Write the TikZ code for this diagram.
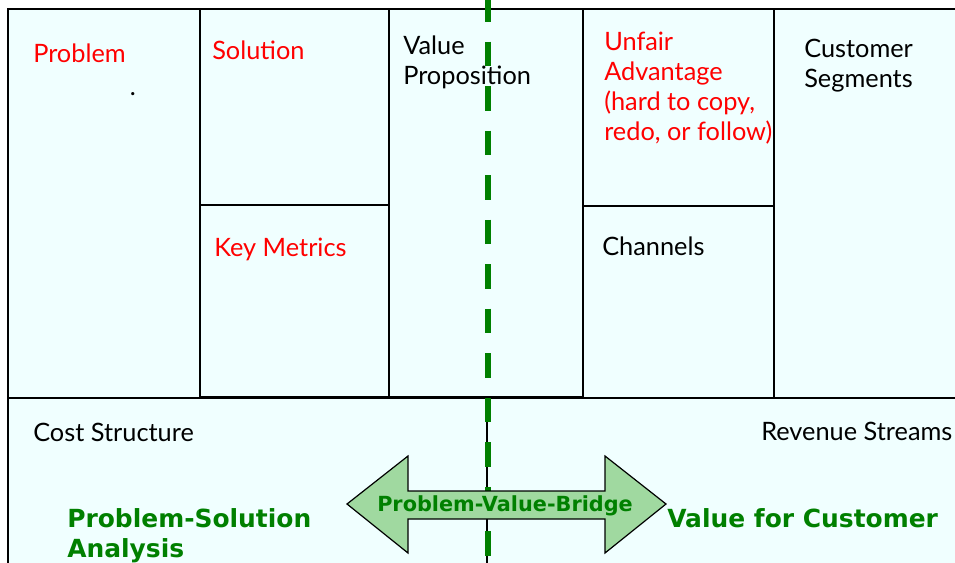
\documentclass[tikz,border=0pt]{standalone}
\usepackage{fontspec}
\setmainfont{Lato}
\newfontfamily\greenfont{DejaVu Sans}
\begin{document}
\begin{tikzpicture}[x=0.75pt,y=-0.75pt,
  box/.style={draw=black,line width=1.5pt,fill=canvasbg},
  lbl/.style={anchor=base west,inner sep=0pt,align=left,font=\fontsize{19}{22.6}\selectfont},
  redlbl/.style={lbl,text=red},
  blklbl/.style={lbl,text=black},
  grnlbl/.style={anchor=base west,inner sep=0pt,align=left,text=grn,font=\greenfont\bfseries\fontsize{18.7}{22.5}\selectfont},
  bridge/.style={draw=black,line width=0.9pt,fill=arrowfill},
  dashline/.style={draw=grn,line width=4.5pt,dash pattern=on 18.4pt off 15pt}
]
\definecolor{canvasbg}{RGB}{240,255,255}
\definecolor{grn}{RGB}{0,128,0}
\definecolor{arrowfill}{RGB}{160,217,160}
\useasboundingbox (0,0) rectangle (955,563);
\clip (0,0) rectangle (955,563);
% boxes
\draw[box] (8,9) rectangle (200,398);
\draw[box] (200,9) rectangle (389,205);
\draw[box] (200,205) rectangle (389,397);
\draw[box] (389,9) rectangle (583,397);
\draw[box] (583,9) rectangle (774,206);
\draw[box] (583,206) rectangle (774,398);
\draw[box] (774,9) rectangle (962,400);
\draw[box] (8,398) rectangle (487,572);
\draw[box] (487,398) rectangle (962,572);
% labels (multi-line nodes: base = last line)
\node[redlbl] (problem) at (33,63) {Problem};
\node[blklbl] (dot) at (129.5,96) {.};
\node[redlbl] (solution) at (212,60) {Solution};
\node[blklbl] (vp) at (403,85) {Value\\Proposition};
\node[redlbl] (ua) at (604,141) {Unfair\\Advantage\\(hard to copy,\\redo, or follow)};
\node[blklbl] (cs) at (804,88) {Customer\\Segments};
\node[redlbl] (km) at (214,256) {Key Metrics};
\node[blklbl] (ch) at (602,255) {Channels};
\node[blklbl] (cost) at (33,441) {Cost Structure};
\node[blklbl] (rev) at (761,440) {Revenue Streams};
% dashed divider
\coordinate (dtop) at (488,-3);
\coordinate (dbot) at (488,570);
\draw[dashline] (dtop) -- (dbot);
% double arrow
\draw[bridge] (347,504) -- (408,456) -- (408,491) -- (605,491) -- (605,456) -- (666,504)
  -- (605,553) -- (605,519) -- (408,519) -- (408,553) -- cycle;
\node[anchor=base,inner sep=0pt,text=grn,font=\greenfont\bfseries\fontsize{15.6}{18}\selectfont] (pvb) at (505,511) {Problem-Value-Bridge};
\node[grnlbl] (psa) at (67,557) {Problem-Solution\\Analysis};
\node[grnlbl] (vfc) at (667,527) {Value for Customer};
\end{tikzpicture}
\end{document}
